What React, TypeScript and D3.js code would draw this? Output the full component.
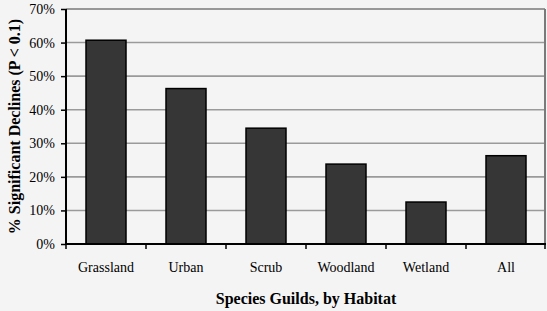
import React, { useRef, useEffect } from "react";
import * as d3 from "d3";

const categories = ["Grassland", "Urban", "Scrub", "Woodland", "Wetland", "All"];
const declines = [0.607, 0.463, 0.345, 0.238, 0.125, 0.263];
const yTicks = [0, 0.1, 0.2, 0.3, 0.4, 0.5, 0.6, 0.7];

const width = 547;
const height = 311;
const margin = { top: 9, right: 1, bottom: 67, left: 66 };
const serif = "'Liberation Serif', 'Times New Roman', serif";

const App = () => {
  const ref = useRef<SVGSVGElement>(null);

  useEffect(() => {
    const svg = d3.select(ref.current);
    svg.selectAll("*").remove();

    const x = d3.scaleBand()
      .domain(categories)
      .range([margin.left, width - margin.right])
      .paddingInner(0.5)
      .paddingOuter(0.25);

    const band = d3.scaleBand()
      .domain(categories)
      .range([margin.left, width - margin.right]);

    const y = d3.scaleLinear()
      .domain([0, 0.7])
      .range([height - margin.bottom, margin.top]);

    svg.append("rect")
      .attr("width", width)
      .attr("height", height)
      .attr("fill", "#f4f4f4");

    // gridlines
    svg.append("g")
      .selectAll("line")
      .data(yTicks.slice(1))
      .join("line")
      .attr("x1", margin.left)
      .attr("x2", width - margin.right - 1)
      .attr("y1", d => y(d))
      .attr("y2", d => y(d))
      .attr("stroke", d => d === 0.7 ? "#7a7a7a" : "#9a9a9a")
      .attr("stroke-width", 1.6);

    // right frame
    svg.append("line")
      .attr("x1", width - margin.right - 1)
      .attr("x2", width - margin.right - 1)
      .attr("y1", y(0.7))
      .attr("y2", y(0))
      .attr("stroke", "#7a7a7a")
      .attr("stroke-width", 2);

    svg.append("g")
      .selectAll("rect")
      .data(declines)
      .join("rect")
      .attr("x", (d, i) => x(categories[i])!)
      .attr("y", d => y(d))
      .attr("width", x.bandwidth())
      .attr("height", d => y(0) - y(d))
      .attr("fill", "#363636")
      .attr("stroke", "#000")
      .attr("stroke-width", 1.5);

    // y axis
    svg.append("g")
      .attr("transform", `translate(${margin.left},0)`)
      .call(d3.axisLeft(y).tickValues(yTicks).tickFormat(d3.format(".0%")).tickSize(5).tickPadding(6))
      .call(g => g.select(".domain").attr("stroke", "#000").attr("stroke-width", 2).attr("d", `M0,${y(0.7)}V${y(0)}`))
      .call(g => g.selectAll(".tick line").attr("stroke", "#000").attr("stroke-width", 1.5))
      .call(g => g.selectAll("text")
        .style("font-family", serif)
        .style("font-size", "14px")
        .attr("fill", "#000"));

    // x axis
    const xAxis = svg.append("g")
      .attr("transform", `translate(0,${y(0)})`);
    xAxis.append("line")
      .attr("x1", margin.left)
      .attr("x2", width - margin.right)
      .attr("stroke", "#000")
      .attr("stroke-width", 2);
    xAxis.selectAll("line.tick")
      .data([...categories.map(c => band(c)!), width - margin.right - 1])
      .join("line")
      .attr("class", "tick")
      .attr("x1", d => d)
      .attr("x2", d => d)
      .attr("y1", 0)
      .attr("y2", 5)
      .attr("stroke", "#000")
      .attr("stroke-width", 1.5);
    xAxis.selectAll("text")
      .data(categories)
      .join("text")
      .attr("x", d => band(d)! + band.bandwidth() / 2)
      .attr("y", 28)
      .attr("text-anchor", "middle")
      .style("font-family", serif)
      .style("font-size", "14px")
      .attr("fill", "#000")
      .text(d => d);

    svg.append("text")
      .attr("x", 306)
      .attr("y", 304)
      .attr("text-anchor", "middle")
      .style("font-family", serif)
      .style("font-weight", "bold")
      .style("font-size", "16px")
      .attr("fill", "#000")
      .text("Species Guilds, by Habitat");

    svg.append("text")
      .attr("transform", `translate(20,${(y(0) + y(0.7)) / 2}) rotate(-90)`)
      .attr("text-anchor", "middle")
      .style("font-family", serif)
      .style("font-weight", "bold")
      .style("font-size", "16px")
      .attr("fill", "#000")
      .text("% Significant Declines (P < 0.1)");
  }, []);

  return (
    <svg ref={ref} width={width} height={height}
      style={{ position: "absolute", left: 0, top: 0 }} />
  );
};

export default App;
